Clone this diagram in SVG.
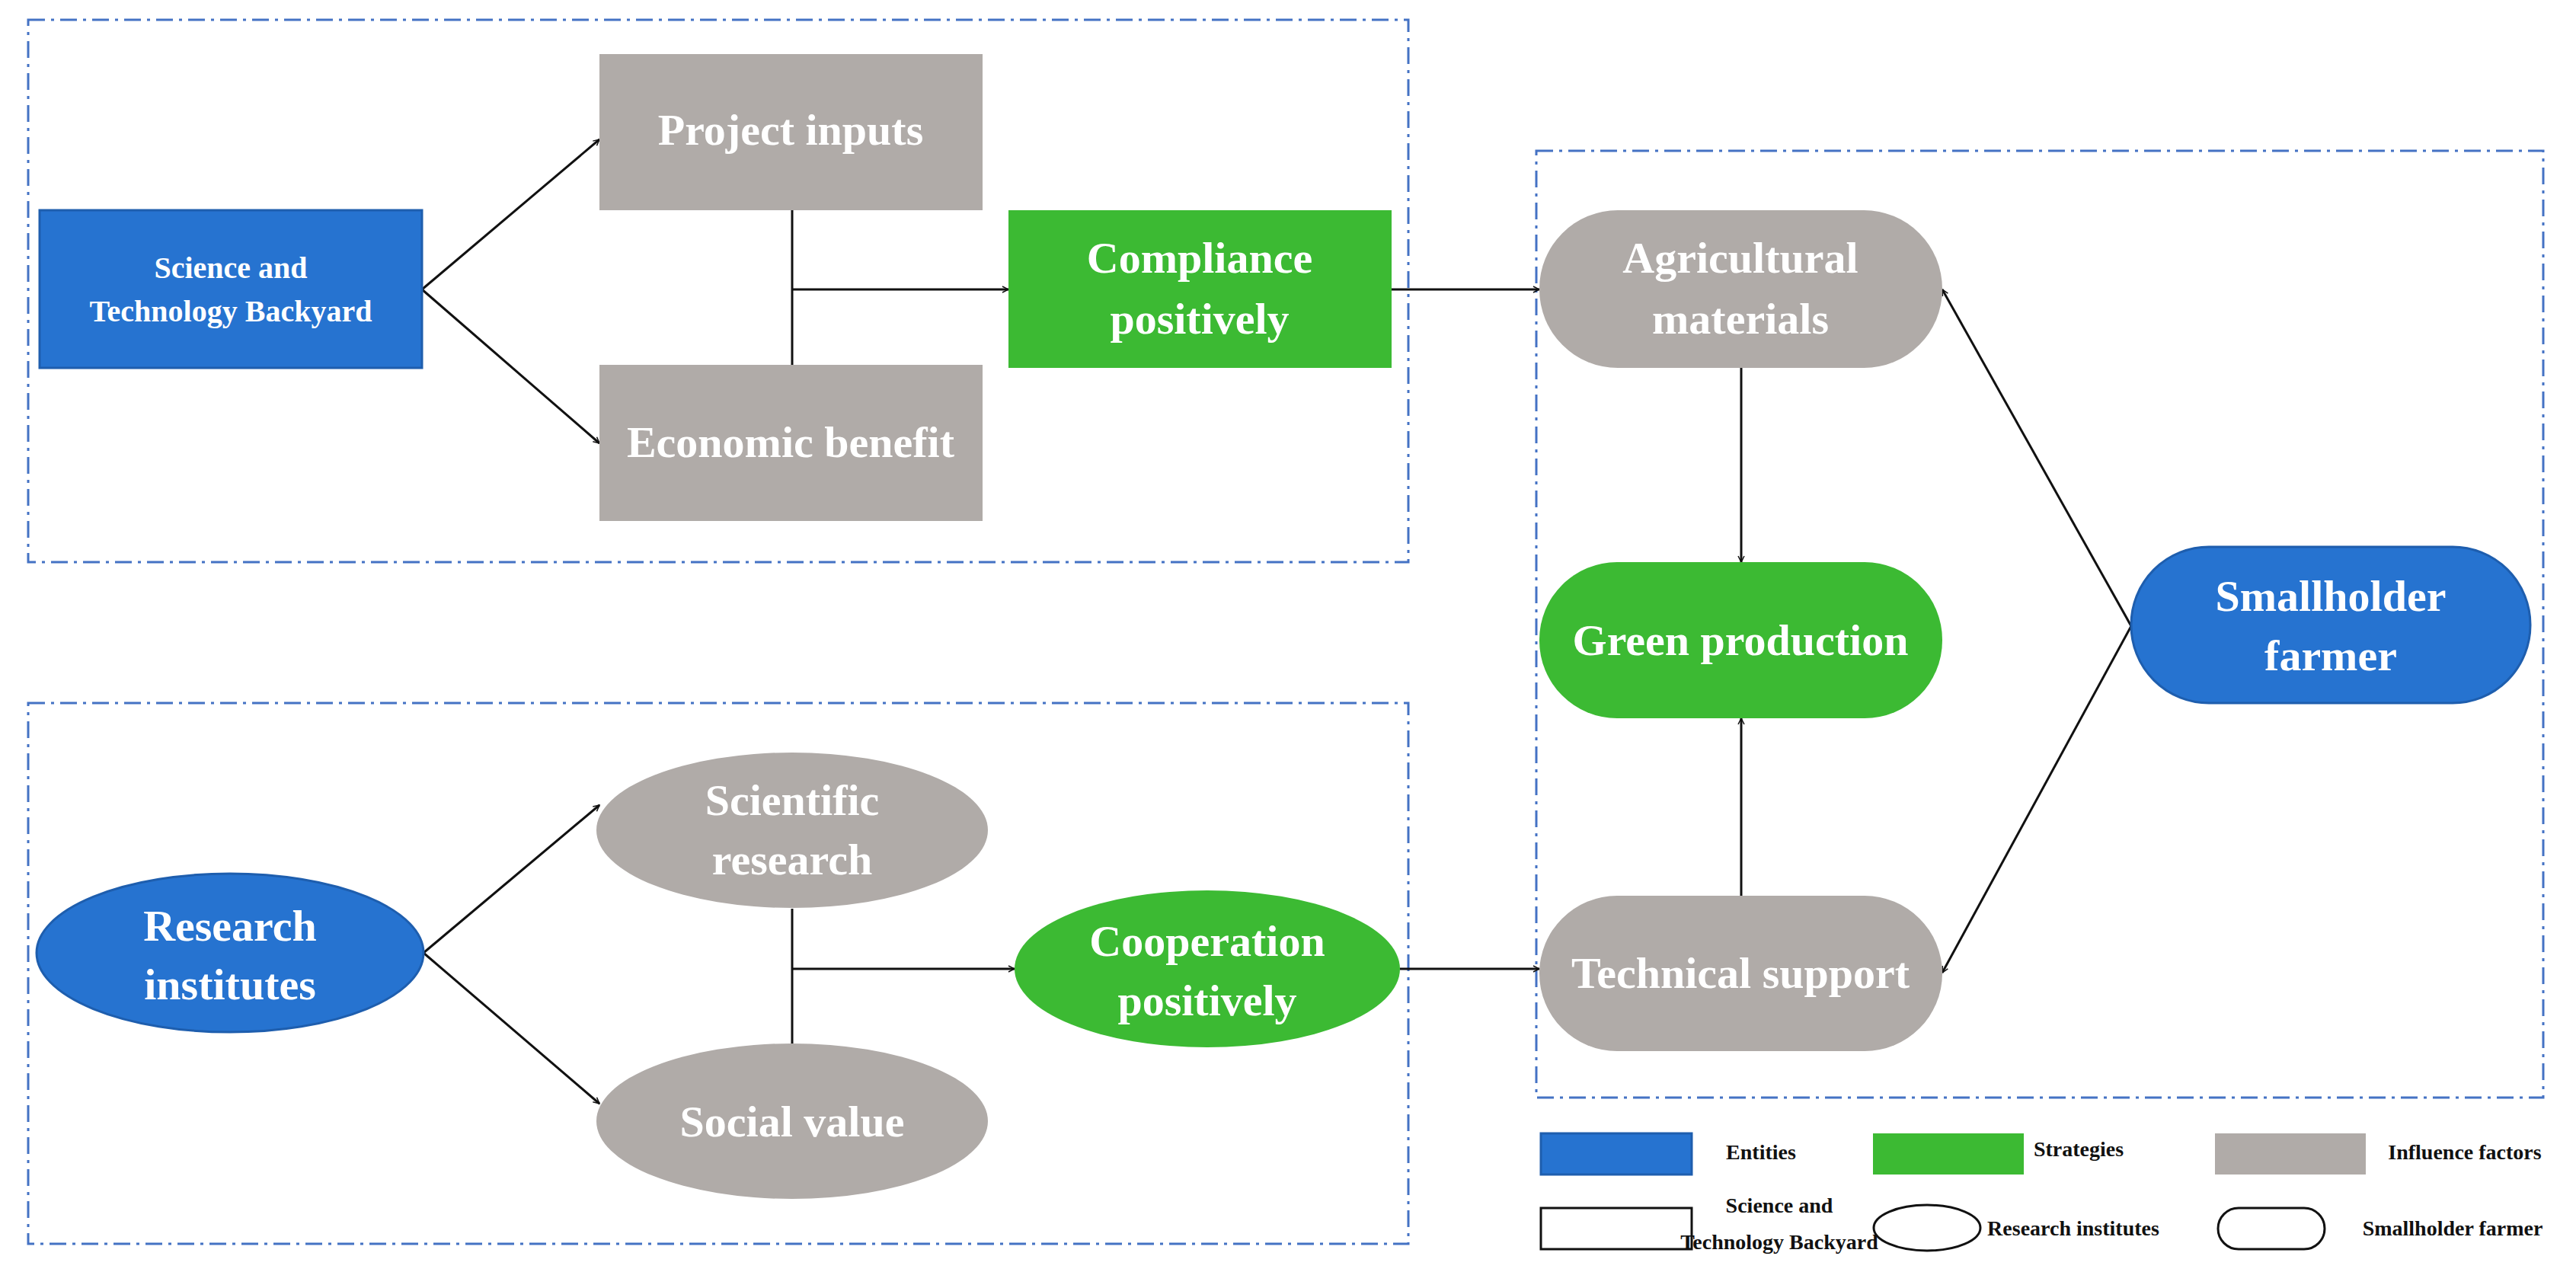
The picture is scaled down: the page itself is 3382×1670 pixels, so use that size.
<svg xmlns="http://www.w3.org/2000/svg" width="3382" height="1670" viewBox="0 0 3382 1670">
<style>
.frame{fill:none;stroke:#4472C4;stroke-width:3;stroke-dasharray:22 8 4 8}
.blue{fill:#2673D0;stroke:#1E5EAE;stroke-width:3}
.green{fill:#3CBA33}
.gray{fill:#B0ABA8}
.t{font-family:"Liberation Serif",serif;font-weight:bold;fill:#fff;text-anchor:middle}
.big{font-size:58px}
.lg{font-family:"Liberation Serif",serif;font-weight:bold;fill:#111;text-anchor:middle;font-size:28px}
.c{fill:none;stroke:#111;stroke-width:3}
.k{fill:none;stroke:#111;stroke-width:3}
</style>
<defs>
<marker id="a" viewBox="0 0 20 20" refX="18" refY="10" markerWidth="10" markerHeight="10" markerUnits="userSpaceOnUse" orient="auto"><path d="M2 2 L18 10 L2 18" fill="none" stroke="#111" stroke-width="3"/></marker>
</defs>
<rect width="3382" height="1670" fill="#fff"/>
<rect class="frame" x="37" y="26" width="1812" height="712"/>
<rect class="frame" x="2017" y="198" width="1322" height="1243"/>
<rect class="frame" x="37" y="923" width="1812" height="710"/>
<g id="connectors">
<path class="c" d="M554 380 L787 183" marker-end="url(#a)"/>
<path class="c" d="M554 380 L787 582" marker-end="url(#a)"/>
<path class="c" d="M1040 276 L1040 479"/>
<path class="c" d="M1040 380 L1324 380" marker-end="url(#a)"/>
<path class="c" d="M1827 380 L2021 380" marker-end="url(#a)"/>
<path class="c" d="M2286 483 L2286 738" marker-end="url(#a)"/>
<path class="c" d="M2286 1176 L2286 943" marker-end="url(#a)"/>
<path class="c" d="M2798 822 L2550 380" marker-end="url(#a)"/>
<path class="c" d="M2798 822 L2550 1277" marker-end="url(#a)"/>
<path class="c" d="M556 1251 L787 1057" marker-end="url(#a)"/>
<path class="c" d="M556 1251 L787 1449" marker-end="url(#a)"/>
<path class="c" d="M1040 1193 L1040 1370"/>
<path class="c" d="M1040 1272 L1332 1272" marker-end="url(#a)"/>
<path class="c" d="M1838 1272 L2021 1272" marker-end="url(#a)"/>
</g>
<g id="sci"><rect class="blue" x="52" y="276" width="502" height="207"/><text class="t" font-size="40" x="303" y="365">Science and</text><text class="t" font-size="40" x="303" y="422">Technology Backyard</text></g>
<g id="project"><rect class="gray" x="787" y="71" width="503" height="205"/><text class="t big" x="1038" y="190">Project inputs</text></g>
<g id="economic"><rect class="gray" x="787" y="479" width="503" height="205"/><text class="t big" x="1038" y="600">Economic benefit</text></g>
<g id="compliance"><rect class="green" x="1324" y="276" width="503" height="207"/><text class="t big" x="1575" y="358">Compliance</text><text class="t big" x="1575" y="438">positively</text></g>
<g id="agri"><rect class="gray" x="2021" y="276" width="529" height="207" rx="103"/><text class="t big" x="2285" y="358">Agricultural</text><text class="t big" x="2285" y="438">materials</text></g>
<g id="green"><rect class="green" x="2021" y="738" width="529" height="205" rx="102"/><text class="t big" x="2285" y="860">Green production</text></g>
<g id="tech"><rect class="gray" x="2021" y="1176" width="529" height="204" rx="102"/><text class="t big" x="2285" y="1297">Technical support</text></g>
<g id="farmer"><rect class="blue" x="2798" y="718" width="524" height="205" rx="102"/><text class="t big" x="3060" y="802">Smallholder</text><text class="t big" x="3060" y="880">farmer</text></g>
<g id="research"><ellipse class="blue" cx="302" cy="1251" rx="254" ry="104"/><text class="t big" x="302" y="1235">Research</text><text class="t big" x="302" y="1312">institutes</text></g>
<g id="scientific"><ellipse class="gray" cx="1040" cy="1090" rx="257" ry="102"/><text class="t big" x="1040" y="1070">Scientific</text><text class="t big" x="1040" y="1148">research</text></g>
<g id="social"><ellipse class="gray" cx="1040" cy="1472" rx="257" ry="102"/><text class="t big" x="1040" y="1492">Social value</text></g>
<g id="cooperation"><ellipse class="green" cx="1585" cy="1272" rx="253" ry="103"/><text class="t big" x="1585" y="1255">Cooperation</text><text class="t big" x="1585" y="1333">positively</text></g>
<g id="legend">
<rect class="blue" x="2023" y="1488" width="198" height="54"/>
<text class="lg" x="2312" y="1522">Entities</text>
<rect class="green" x="2459" y="1488" width="198" height="54"/>
<text class="lg" x="2729" y="1518">Strategies</text>
<rect class="gray" x="2908" y="1488" width="198" height="54"/>
<text class="lg" x="3236" y="1522">Influence factors</text>
<rect class="k" x="2023" y="1586" width="198" height="54"/>
<text class="lg" font-size="24" x="2336" y="1592">Science and</text>
<text class="lg" font-size="24" x="2336" y="1640">Technology Backyard</text>
<ellipse class="k" cx="2530" cy="1612" rx="70" ry="30"/>
<text class="lg" x="2722" y="1622">Research institutes</text>
<rect class="k" x="2912" y="1586" width="140" height="54" rx="27"/>
<text class="lg" x="3220" y="1622">Smallholder farmer</text>
</g>
</svg>
